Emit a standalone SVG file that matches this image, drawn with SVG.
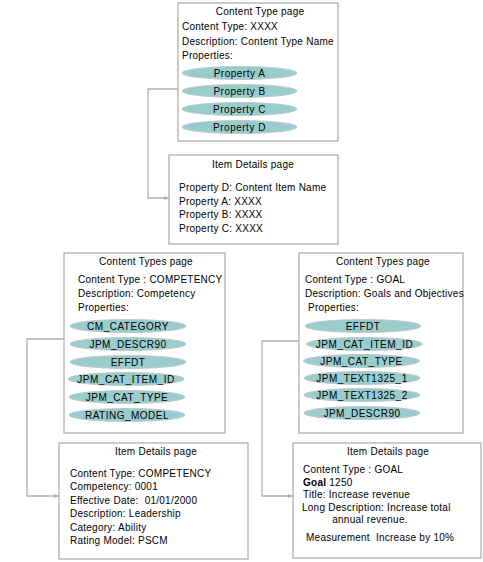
<svg xmlns="http://www.w3.org/2000/svg" width="483" height="562" viewBox="0 0 483 562">
<defs>
<style>
.box{fill:#fff;stroke:#b0b0b0;stroke-width:1.3}
.el{fill:#99cccc;stroke:#c0c8c8;stroke-width:1}
.t{font-family:"Liberation Sans",Arial,sans-serif;font-size:10px;fill:#000;letter-spacing:0.25px}
.e{letter-spacing:0.5px}
.c{text-anchor:middle}
.conn{fill:none;stroke:#b0b0b0;stroke-width:1.3}
</style>
<marker id="arr" viewBox="0 0 10 10" refX="10" refY="5" markerWidth="5" markerHeight="5" orient="auto" markerUnits="userSpaceOnUse">
<path d="M0,1 L10,5 L0,9 z" fill="#b0b0b0"/>
</marker>
</defs>
<rect width="483" height="562" fill="#fff"/>
<g id="connectors">
<path class="conn" d="M178,89 H148 V198 H169" marker-end="url(#arr)"/>
<path class="conn" d="M64,339 H27 V496 H59" marker-end="url(#arr)"/>
<path class="conn" d="M299,341 H262 V496 H293" marker-end="url(#arr)"/>
</g>
<g id="content-type-page">
<rect class="box" x="178" y="3" width="160" height="138"/>
<text class="t c" x="260" y="15">Content Type page</text>
<text class="t" x="182" y="30">Content Type: XXXX</text>
<text class="t" x="182" y="45">Description: Content Type Name</text>
<text class="t" x="182" y="59">Properties:</text>
<ellipse class="el" cx="239.5" cy="73" rx="57.5" ry="6.5"/>
<text class="t e c" x="239.5" y="76.5">Property A</text>
<ellipse class="el" cx="239.5" cy="91" rx="57.5" ry="6.5"/>
<text class="t e c" x="239.5" y="94.5">Property B</text>
<ellipse class="el" cx="239.5" cy="109" rx="57.5" ry="6.5"/>
<text class="t e c" x="239.5" y="112.5">Property C</text>
<ellipse class="el" cx="239.5" cy="127" rx="57.5" ry="6.5"/>
<text class="t e c" x="239.5" y="130.5">Property D</text>
</g>
<g id="item-details-page-1">
<rect class="box" x="169" y="155" width="169" height="89"/>
<text class="t c" x="253" y="168">Item Details page</text>
<text class="t" x="179" y="191">Property D: Content Item Name</text>
<text class="t" x="179" y="205">Property A: XXXX</text>
<text class="t" x="179" y="218">Property B: XXXX</text>
<text class="t" x="179" y="232">Property C: XXXX</text>
</g>
<g id="content-types-competency">
<rect class="box" x="64" y="253" width="161" height="180"/>
<text class="t c" x="146" y="265">Content Types page</text>
<text class="t" x="78" y="283">Content Type : COMPETENCY</text>
<text class="t" x="78" y="297">Description: Competency</text>
<text class="t" x="78" y="311">Properties:</text>
<ellipse class="el" cx="128" cy="326" rx="58" ry="6.5"/>
<text class="t e c" x="128" y="329.5">CM_CATEGORY</text>
<ellipse class="el" cx="128" cy="344" rx="58" ry="6.5"/>
<text class="t e c" x="128" y="347.5">JPM_DESCR90</text>
<ellipse class="el" cx="128" cy="362" rx="58" ry="6.5"/>
<text class="t e c" x="128" y="365.5">EFFDT</text>
<ellipse class="el" cx="126" cy="379" rx="58" ry="6.5"/>
<text class="t e c" x="126" y="382.5">JPM_CAT_ITEM_ID</text>
<ellipse class="el" cx="127" cy="397" rx="58" ry="6.5"/>
<text class="t e c" x="127" y="400.5">JPM_CAT_TYPE</text>
<ellipse class="el" cx="127" cy="415" rx="58" ry="6.5"/>
<text class="t e c" x="127" y="418.5">RATING_MODEL</text>
</g>
<g id="content-types-goal">
<rect class="box" x="299" y="253" width="164" height="180"/>
<text class="t c" x="383" y="265">Content Types page</text>
<text class="t" x="305" y="283">Content Type : GOAL</text>
<text class="t" x="305" y="297">Description: Goals and Objectives</text>
<text class="t" x="308" y="311">Properties:</text>
<ellipse class="el" cx="363" cy="326" rx="58" ry="6.5"/>
<text class="t e c" x="363" y="329.5">EFFDT</text>
<ellipse class="el" cx="364.5" cy="344" rx="58" ry="6.5"/>
<text class="t e c" x="364.5" y="347.5">JPM_CAT_ITEM_ID</text>
<ellipse class="el" cx="361.5" cy="361" rx="58" ry="6.5"/>
<text class="t e c" x="361.5" y="364.5">JPM_CAT_TYPE</text>
<ellipse class="el" cx="362" cy="378" rx="58" ry="6.5"/>
<text class="t e c" x="362" y="381.5">JPM_TEXT1325_1</text>
<ellipse class="el" cx="362" cy="395" rx="58" ry="6.5"/>
<text class="t e c" x="362" y="398.5">JPM_TEXT1325_2</text>
<ellipse class="el" cx="362" cy="413" rx="58" ry="6.5"/>
<text class="t e c" x="362" y="416.5">JPM_DESCR90</text>
</g>
<g id="item-details-competency">
<rect class="box" x="59" y="443" width="189" height="116"/>
<text class="t c" x="156" y="455">Item Details page</text>
<text class="t" x="70" y="477">Content Type: COMPETENCY</text>
<text class="t" x="70" y="490">Competency: 0001</text>
<text class="t" x="70" y="504" xml:space="preserve">Effective Date:  01/01/2000</text>
<text class="t" x="70" y="517">Description: Leadership</text>
<text class="t" x="70" y="531">Category: Ability</text>
<text class="t" x="70" y="544">Rating Model: PSCM</text>
</g>
<g id="item-details-goal">
<rect class="box" x="293" y="443" width="188" height="115"/>
<text class="t c" x="388" y="455">Item Details page</text>
<text class="t" x="303" y="473">Content Type : GOAL</text>
<text class="t" x="303" y="486"><tspan font-weight="bold">Goal</tspan> 1250</text>
<text class="t" x="303" y="498">Title: Increase revenue</text>
<text class="t" x="302" y="511">Long Description: Increase total</text>
<text class="t c" x="370" y="523">annual revenue.</text>
<text class="t" x="306" y="541" xml:space="preserve">Measurement  Increase by 10%</text>
</g>
</svg>
